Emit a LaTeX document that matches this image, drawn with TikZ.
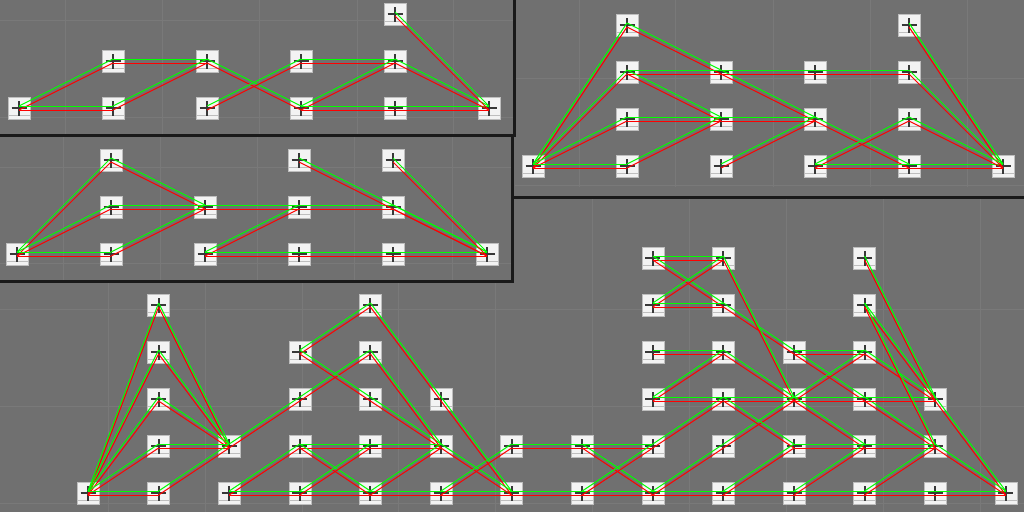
\documentclass[tikz,border=0pt]{standalone}
\definecolor{bg}{RGB}{112,112,112}
\definecolor{gridc}{RGB}{121,121,121}
\definecolor{nodefill}{RGB}{243,243,243}
\definecolor{nodeedge}{RGB}{190,190,190}
\definecolor{crossc}{RGB}{56,56,56}
\definecolor{pathg}{RGB}{0,255,0}
\definecolor{pathr}{RGB}{255,0,0}
\tikzset{
  cell/.style={rectangle, minimum size=22pt, inner sep=0pt, fill=nodefill,
    draw=nodeedge, line width=0.5pt,
    path picture={
      \draw[nodeedge, line width=0.8pt]
        ([yshift=3.5pt]path picture bounding box.south west) --
        ([yshift=3.5pt]path picture bounding box.south east);
      \draw[crossc, line width=2.4pt]
        ([xshift=-7.5pt]path picture bounding box.center) --
        ([xshift=7.5pt]path picture bounding box.center);
      \draw[crossc, line width=2pt]
        ([yshift=-7.5pt]path picture bounding box.center) --
        ([yshift=7.5pt]path picture bounding box.center);
    }},
  gline/.style={pathg, line width=1pt},
  rline/.style={pathr, line width=1pt},
  gridline/.style={gridc, line width=0.8pt},
  frame/.style={black!90, line width=3pt},
}
\newcommand\lnk[2]{%
  \draw[gline] ([yshift=2pt]#1.center) -- ([yshift=2pt]#2.center);
  \draw[rline] ([yshift=-2pt]#1.center) -- ([yshift=-2pt]#2.center);}
\begin{document}
\begin{tikzpicture}[x=1pt,y=-1pt]
\useasboundingbox (0,0) rectangle (1024,512);
\fill[bg] (0,0) rectangle (1024,512);

% faint grid lines
\foreach \x in {65,162,259,357,453} \draw[gridline] (\x,0) -- (\x,134);
\foreach \y in {20,117} \draw[gridline] (0,\y) -- (514,\y);
\foreach \x in {63,160,257,354,452} \draw[gridline] (\x,135) -- (\x,281);
\foreach \y in {167,263} \draw[gridline] (0,\y) -- (512,\y);
\foreach \x in {579,675,773,870,967} \draw[gridline] (\x,0) -- (\x,187);
\foreach \y in {78,185} \draw[gridline] (515,\y) -- (1024,\y);
\foreach \x in {108,205,302,398,495} \draw[gridline] (\x,281) -- (\x,512);
\foreach \x in {592,689,786,883,980} \draw[gridline] (\x,197) -- (\x,512);
\foreach \y in {309,406,503} \draw[gridline] (0,\y) -- (1024,\y);

% frames
\draw[frame] (0,135) -- (514,135) -- (514,0);
\draw[frame] (0,281) -- (512,281) -- (512,135);
\draw[frame] (512,197) -- (1024,197);

% nodes panel a
\foreach \c/\r in {0/0,1/1,1/0,2/1,2/0,3/1,3/0,4/2,4/1,4/0,5/0}
  \node[cell] (a-\c-\r) at ({19+94*\c},{108-47*\r}) {};
% nodes panel b
\foreach \c/\r in {0/0,1/2,1/1,1/0,2/1,2/0,3/2,3/1,3/0,4/2,4/1,4/0,5/0}
  \node[cell] (b-\c-\r) at ({17+94*\c},{254-47*\r}) {};
% nodes panel c
\foreach \c/\r in {0/0,1/3,1/2,1/1,1/0,2/2,2/1,2/0,3/2,3/1,3/0,4/3,4/2,4/1,4/0,5/0}
  \node[cell] (c-\c-\r) at ({533+94*\c},{166-47*\r}) {};
% nodes panel d
\foreach \c/\r in {0/0,1/0,1/1,1/2,1/3,1/4,2/0,2/1,3/0,3/1,3/2,3/3,
  4/0,4/1,4/2,4/3,4/4,5/0,5/1,5/2,6/0,6/1,7/0,7/1,
  8/0,8/1,8/2,8/3,8/4,8/5,9/0,9/1,9/2,9/3,9/4,9/5,
  10/0,10/1,10/2,10/3,11/0,11/1,11/2,11/3,11/4,11/5,12/0,12/1,12/2,13/0}
  \node[cell] (d-\c-\r) at ({88+70.6*\c},{493-47*\r}) {};

% connectors panel a
\foreach \p/\q in {a-0-0/a-1-1,a-0-0/a-1-0,a-1-1/a-2-1,a-1-0/a-2-1,a-2-1/a-3-0,
  a-2-0/a-3-1,a-3-1/a-4-1,a-3-0/a-4-1,a-3-0/a-5-0,a-4-1/a-5-0,a-4-2/a-5-0}
  {\lnk{\p}{\q}}
% connectors panel b
\foreach \p/\q in {b-0-0/b-1-2,b-0-0/b-1-1,b-0-0/b-1-0,b-1-2/b-2-1,b-1-1/b-2-1,
  b-1-0/b-2-1,b-2-1/b-4-1,b-2-0/b-3-1,b-2-0/b-5-0,b-3-2/b-5-0,b-4-1/b-5-0,b-4-2/b-5-0}
  {\lnk{\p}{\q}}
% connectors panel c
\foreach \p/\q in {c-0-0/c-1-3,c-0-0/c-1-2,c-0-0/c-1-1,c-0-0/c-1-0,c-1-3/c-4-0,
  c-1-2/c-4-2,c-1-2/c-2-1,c-1-1/c-2-1,c-1-0/c-2-1,c-2-1/c-3-1,c-2-0/c-3-1,
  c-3-0/c-4-1,c-3-0/c-5-0,c-4-3/c-5-0,c-4-2/c-5-0,c-4-1/c-5-0}
  {\lnk{\p}{\q}}
% connectors panel d
\foreach \p/\q in {d-0-0/d-1-4,d-0-0/d-1-3,d-0-0/d-1-2,d-0-0/d-1-1,d-0-0/d-1-0,
  d-1-4/d-2-1,d-1-3/d-2-1,d-1-2/d-2-1,d-1-1/d-2-1,d-1-0/d-2-1,
  d-2-1/d-4-3,d-2-0/d-3-1,d-2-0/d-13-0,
  d-3-3/d-4-4,d-3-3/d-5-1,d-3-1/d-5-1,d-3-1/d-4-0,d-3-0/d-4-1,
  d-4-4/d-6-0,d-4-3/d-5-1,d-4-0/d-5-1,d-5-1/d-6-0,d-5-0/d-6-1,
  d-6-1/d-8-1,d-7-1/d-8-0,d-7-0/d-9-2,
  d-8-5/d-9-5,d-8-5/d-12-1,d-8-4/d-9-5,d-8-4/d-9-4,
  d-9-5/d-10-2,d-8-3/d-9-3,d-9-3/d-10-2,d-8-2/d-9-3,d-8-2/d-12-2,
  d-8-0/d-10-2,d-9-2/d-10-1,d-9-0/d-10-1,
  d-10-3/d-11-3,d-10-2/d-11-3,d-10-2/d-11-1,d-10-1/d-12-1,d-10-0/d-11-1,d-11-0/d-12-1,
  d-11-3/d-12-2,d-11-5/d-12-2,d-11-4/d-12-2,d-11-4/d-12-1,d-12-2/d-13-0,d-12-1/d-13-0}
  {\lnk{\p}{\q}}
\end{tikzpicture}
\end{document}
